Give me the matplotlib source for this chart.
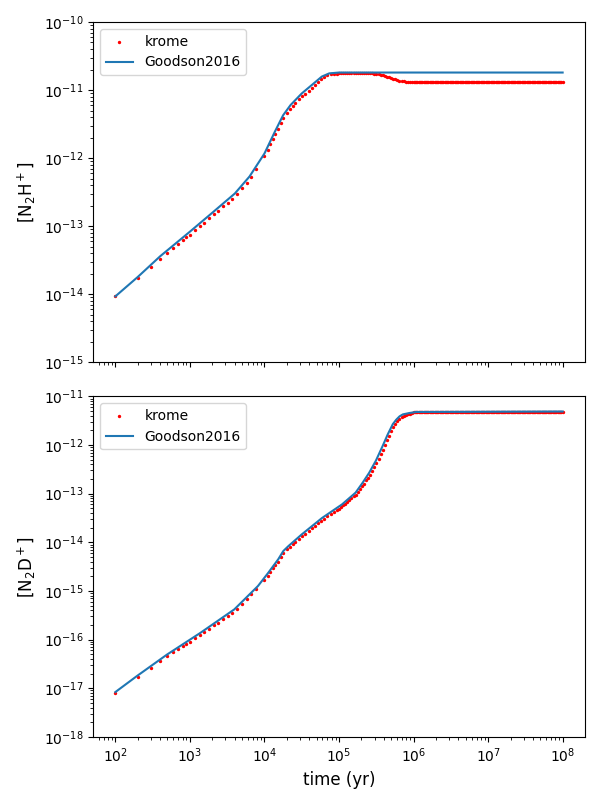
import matplotlib
matplotlib.use("Agg")
import matplotlib.pyplot as plt

# krome output times (yr)
t_dec2 = [100, 200, 300, 400, 500, 600, 700, 800, 900]
t_dec3 = [1000, 1170, 1350, 1550, 1800, 2100, 2400, 2800, 3200, 3700,
          4300, 5000, 5800, 6700, 7800]
t_dec4 = [1.0e4, 1.1e4, 1.2e4, 1.3e4, 1.4e4, 1.5e4, 1.65e4, 1.8e4, 2.0e4,
          2.2e4, 2.4e4, 2.6e4, 2.9e4, 3.2e4, 3.5e4, 3.9e4, 4.3e4, 4.7e4,
          5.2e4, 5.7e4, 6.3e4, 7.0e4, 7.7e4, 8.5e4, 9.3e4]
t_dec5 = [1.0e5, 1.07e5, 1.14e5, 1.21e5, 1.29e5, 1.38e5, 1.47e5, 1.57e5,
          1.67e5, 1.78e5, 1.9e5, 2.03e5, 2.16e5, 2.31e5, 2.46e5, 2.62e5,
          2.8e5, 2.98e5, 3.18e5, 3.39e5, 3.62e5, 3.86e5, 4.12e5, 4.39e5,
          4.68e5, 5.0e5, 5.33e5, 5.69e5, 6.07e5, 6.47e5, 6.9e5, 7.36e5,
          7.85e5, 8.38e5, 8.94e5, 9.53e5]
t_late = [1.00e6, 1.04e6, 1.08e6, 1.12e6, 1.17e6, 1.21e6, 1.26e6, 1.31e6,
          1.36e6, 1.41e6, 1.47e6, 1.52e6, 1.58e6, 1.65e6, 1.71e6, 1.78e6,
          1.85e6, 1.92e6, 2.00e6, 2.08e6, 2.15e6, 2.24e6, 2.33e6, 2.42e6,
          2.51e6, 2.61e6, 2.71e6, 2.82e6, 2.93e6, 3.05e6, 3.16e6, 3.29e6,
          3.42e6, 3.55e6, 3.69e6, 3.83e6, 3.98e6, 4.14e6, 4.30e6, 4.47e6,
          4.64e6, 4.83e6, 5.01e6, 5.21e6, 5.41e6, 5.62e6, 5.84e6, 6.07e6,
          6.31e6, 6.56e6, 6.81e6, 7.08e6, 7.36e6, 7.65e6, 7.94e6, 8.25e6,
          8.58e6, 8.91e6, 9.26e6, 9.62e6,
          1.00e7, 1.04e7, 1.08e7, 1.12e7, 1.17e7, 1.21e7, 1.26e7, 1.31e7,
          1.36e7, 1.41e7, 1.47e7, 1.52e7, 1.58e7, 1.65e7, 1.71e7, 1.78e7,
          1.85e7, 1.92e7, 2.00e7, 2.08e7, 2.15e7, 2.24e7, 2.33e7, 2.42e7,
          2.51e7, 2.61e7, 2.71e7, 2.82e7, 2.93e7, 3.05e7, 3.16e7, 3.29e7,
          3.42e7, 3.55e7, 3.69e7, 3.83e7, 3.98e7, 4.14e7, 4.30e7, 4.47e7,
          4.64e7, 4.83e7, 5.01e7, 5.21e7, 5.41e7, 5.62e7, 5.84e7, 6.07e7,
          6.31e7, 6.56e7, 6.81e7, 7.08e7, 7.36e7, 7.65e7, 7.94e7, 8.25e7,
          8.58e7, 8.91e7, 9.26e7, 9.62e7, 1.00e8]

# krome [N2H+]
n2h_dec2 = [9.3e-15, 1.74e-14, 2.54e-14, 3.33e-14, 4.07e-14, 4.79e-14,
            5.50e-14, 6.21e-14, 6.90e-14]
n2h_dec3 = [7.50e-14, 8.67e-14, 9.91e-14, 1.13e-13, 1.30e-13, 1.50e-13,
            1.70e-13, 1.96e-13, 2.22e-13, 2.54e-13, 2.99e-13, 3.62e-13,
            4.36e-13, 5.36e-13, 6.93e-13]
n2h_dec4 = [1.06e-12, 1.32e-12, 1.61e-12, 1.93e-12, 2.28e-12, 2.65e-12,
            3.26e-12, 3.92e-12, 4.59e-12, 5.28e-12, 5.87e-12, 6.44e-12,
            7.28e-12, 8.13e-12, 8.83e-12, 9.77e-12, 1.08e-11, 1.19e-11,
            1.32e-11, 1.44e-11, 1.54e-11, 1.64e-11, 1.71e-11, 1.75e-11,
            1.75e-11]
n2h_dec5 = [1.77e-11, 1.77e-11, 1.77e-11, 1.77e-11, 1.77e-11, 1.77e-11,
            1.77e-11, 1.77e-11, 1.77e-11, 1.77e-11, 1.77e-11, 1.77e-11,
            1.77e-11, 1.77e-11, 1.77e-11, 1.77e-11, 1.76e-11, 1.74e-11,
            1.72e-11, 1.70e-11, 1.69e-11, 1.66e-11, 1.62e-11, 1.58e-11,
            1.55e-11, 1.50e-11, 1.46e-11, 1.44e-11, 1.41e-11, 1.38e-11,
            1.36e-11, 1.34e-11, 1.33e-11, 1.32e-11, 1.31e-11, 1.31e-11]
n2h_late = 1.31e-11

# krome [N2D+]
n2d_dec2 = [7.94e-18, 1.71e-17, 2.63e-17, 3.56e-17, 4.54e-17, 5.45e-17,
            6.35e-17, 7.24e-17, 8.15e-17]
n2d_dec3 = [9.06e-17, 1.06e-16, 1.22e-16, 1.41e-16, 1.65e-16, 1.95e-16,
            2.24e-16, 2.64e-16, 3.04e-16, 3.55e-16, 4.33e-16, 5.45e-16,
            6.81e-16, 8.47e-16, 1.07e-15]
n2d_dec4 = [1.71e-15, 2.06e-15, 2.47e-15, 2.91e-15, 3.39e-15, 3.90e-15,
            4.91e-15, 6.08e-15, 7.11e-15, 8.11e-15, 9.12e-15, 1.02e-14,
            1.17e-14, 1.34e-14, 1.50e-14, 1.71e-14, 1.93e-14, 2.16e-14,
            2.45e-14, 2.75e-14, 3.08e-14, 3.43e-14, 3.78e-14, 4.19e-14,
            4.60e-14]
n2d_dec5 = [4.95e-14, 5.32e-14, 5.74e-14, 6.21e-14, 6.76e-14, 7.40e-14,
            8.02e-14, 8.77e-14, 9.42e-14, 1.07e-13, 1.24e-13, 1.42e-13,
            1.61e-13, 1.87e-13, 2.13e-13, 2.47e-13, 2.96e-13, 3.50e-13,
            4.20e-13, 5.19e-13, 6.47e-13, 8.00e-13, 1.00e-12, 1.25e-12,
            1.55e-12, 1.90e-12, 2.32e-12, 2.70e-12, 3.09e-12, 3.50e-12,
            3.79e-12, 4.04e-12, 4.17e-12, 4.29e-12, 4.39e-12, 4.47e-12]
n2d_late = 4.8e-12

# Goodson2016 reference curves
g_t_n2h = [1e2, 2e2, 4e2, 1e3, 2e3, 4e3, 6.3e3, 1e4, 1.38e4, 1.78e4, 2.24e4,
           3.16e4, 4.37e4, 5.89e4, 7.41e4, 1e5, 1e8]
g_n2h = [9.33e-15, 1.80e-14, 3.63e-14, 8.32e-14, 1.58e-13, 3.02e-13,
         5.37e-13, 1.17e-12, 2.45e-12, 4.27e-12, 6.03e-12, 8.91e-12,
         1.20e-11, 1.58e-11, 1.76e-11, 1.81e-11, 1.81e-11]

g_t_n2d = [1e2, 1.93e2, 4.92e2, 1.39e3, 3.94e3, 8.18e3, 1.12e4, 1.53e4,
           1.79e4, 2.09e4, 3.16e4, 5.92e4, 1.10e5, 1.67e5, 2.07e5, 2.54e5,
           3.13e5, 3.85e5, 4.51e5, 5.27e5, 5.85e5, 6.49e5, 7.19e5, 8.87e5,
           1.09e6, 1e8]
g_n2d = [8.32e-18, 1.76e-17, 4.90e-17, 1.38e-16, 4.17e-16, 1.26e-15,
         2.34e-15, 4.47e-15, 6.61e-15, 8.32e-15, 1.45e-14, 3.16e-14,
         6.03e-14, 1.05e-13, 1.67e-13, 2.69e-13, 4.79e-13, 9.55e-13,
         1.66e-12, 2.69e-12, 3.31e-12, 3.89e-12, 4.27e-12, 4.57e-12,
         4.79e-12, 4.90e-12]

t_krome = t_dec2 + t_dec3 + t_dec4 + t_dec5 + t_late
krome_n2h = n2h_dec2 + n2h_dec3 + n2h_dec4 + n2h_dec5 + [n2h_late] * len(t_late)
krome_n2d = n2d_dec2 + n2d_dec3 + n2d_dec4 + n2d_dec5 + [n2d_late] * len(t_late)

fig, (ax1, ax2) = plt.subplots(2, 1, figsize=(6, 8), dpi=100, sharex=True)
fig.subplots_adjust(left=0.155, right=0.975, top=0.9725, bottom=0.079,
                    hspace=0.1)

# top: N2H+
ax1.scatter(t_krome, krome_n2h, s=2, color="red", label="krome")
ax1.plot(g_t_n2h, g_n2h, color="C0", label="Goodson2016")
ax1.set_xscale("log")
ax1.set_yscale("log")
ax1.set_ylim(1e-15, 1e-10)
ax1.set_ylabel("[N$_2$H$^+$]", fontsize=12)
ax1.legend(loc="upper left")

# bottom: N2D+
ax2.scatter(t_krome, krome_n2d, s=2, color="red", label="krome")
ax2.plot(g_t_n2d, g_n2d, color="C0", label="Goodson2016")
ax2.set_xscale("log")
ax2.set_yscale("log")
ax2.set_ylim(1e-18, 1e-11)
ax2.set_ylabel("[N$_2$D$^+$]", fontsize=12)
ax2.set_xlabel("time (yr)", fontsize=12)
ax2.legend(loc="upper left")

fig.savefig("out.png")
